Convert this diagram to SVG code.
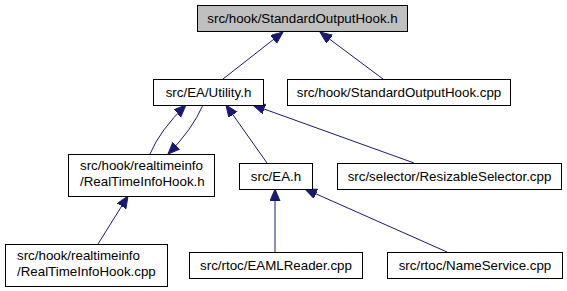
<svg xmlns="http://www.w3.org/2000/svg" width="567" height="291" viewBox="0 0 567 291">
  <style>
    .node rect { fill: #ffffff; stroke: #000000; stroke-width: 1; }
    .node.current rect { fill: #bfbfbf; }
    .node text { font-family: "Liberation Sans", Arial, sans-serif; font-size: 13.33px; fill: #000000; }
    .c { text-anchor: middle; }
    .edges path { fill: none; stroke: #191970; stroke-width: 1; marker-end: url(#arrow); }
  </style>
  <defs>
    <marker id="arrow" markerUnits="userSpaceOnUse" markerWidth="13" markerHeight="11" refX="12" refY="5" orient="auto">
      <path d="M0,0 L12,5 L0,10 z" fill="#191970" stroke="#191970" stroke-width="1"/>
    </marker>
  </defs>
  <rect width="567" height="291" fill="#ffffff"/>

  <g class="edges">
    <path d="M223,79 L283,32"/>
    <path d="M383,79 L320,32"/>
    <path d="M150,154 Q160,130 186,105"/>
    <path d="M203,105 Q192,130 168,154"/>
    <path d="M267,163 L226,105"/>
    <path d="M414,163 L253,105"/>
    <path d="M98,244 L128,196"/>
    <path d="M275,252 L275,189"/>
    <path d="M447,252 L305,189"/>
  </g>

  <g id="node1" class="node current">
    <rect x="197.5" y="5.5" width="210" height="26"/>
    <text class="c" x="302.5" y="23">src/hook/StandardOutputHook.h</text>
  </g>
  <g id="node2" class="node">
    <rect x="153.5" y="79.5" width="110" height="26"/>
    <text class="c" x="208.5" y="97">src/EA/Utility.h</text>
  </g>
  <g id="node3" class="node">
    <rect x="287.5" y="79.5" width="223" height="26"/>
    <text class="c" x="399" y="97">src/hook/StandardOutputHook.cpp</text>
  </g>
  <g id="node4" class="node">
    <rect x="68.5" y="154.5" width="146" height="42"/>
    <text x="80" y="170">src/hook/realtimeinfo</text>
    <text x="80" y="186">/RealTimeInfoHook.h</text>
  </g>
  <g id="node5" class="node">
    <rect x="239.5" y="163.5" width="73" height="26"/>
    <text class="c" x="276" y="181">src/EA.h</text>
  </g>
  <g id="node6" class="node">
    <rect x="337.5" y="163.5" width="224" height="26"/>
    <text class="c" x="449.5" y="181">src/selector/ResizableSelector.cpp</text>
  </g>
  <g id="node7" class="node">
    <rect x="5.5" y="244.5" width="162" height="42"/>
    <text x="17" y="260">src/hook/realtimeinfo</text>
    <text x="17" y="276">/RealTimeInfoHook.cpp</text>
  </g>
  <g id="node8" class="node">
    <rect x="189.5" y="252.5" width="173" height="26"/>
    <text class="c" x="276" y="270">src/rtoc/EAMLReader.cpp</text>
  </g>
  <g id="node9" class="node">
    <rect x="387.5" y="252.5" width="175" height="26"/>
    <text class="c" x="475" y="270">src/rtoc/NameService.cpp</text>
  </g>
</svg>
